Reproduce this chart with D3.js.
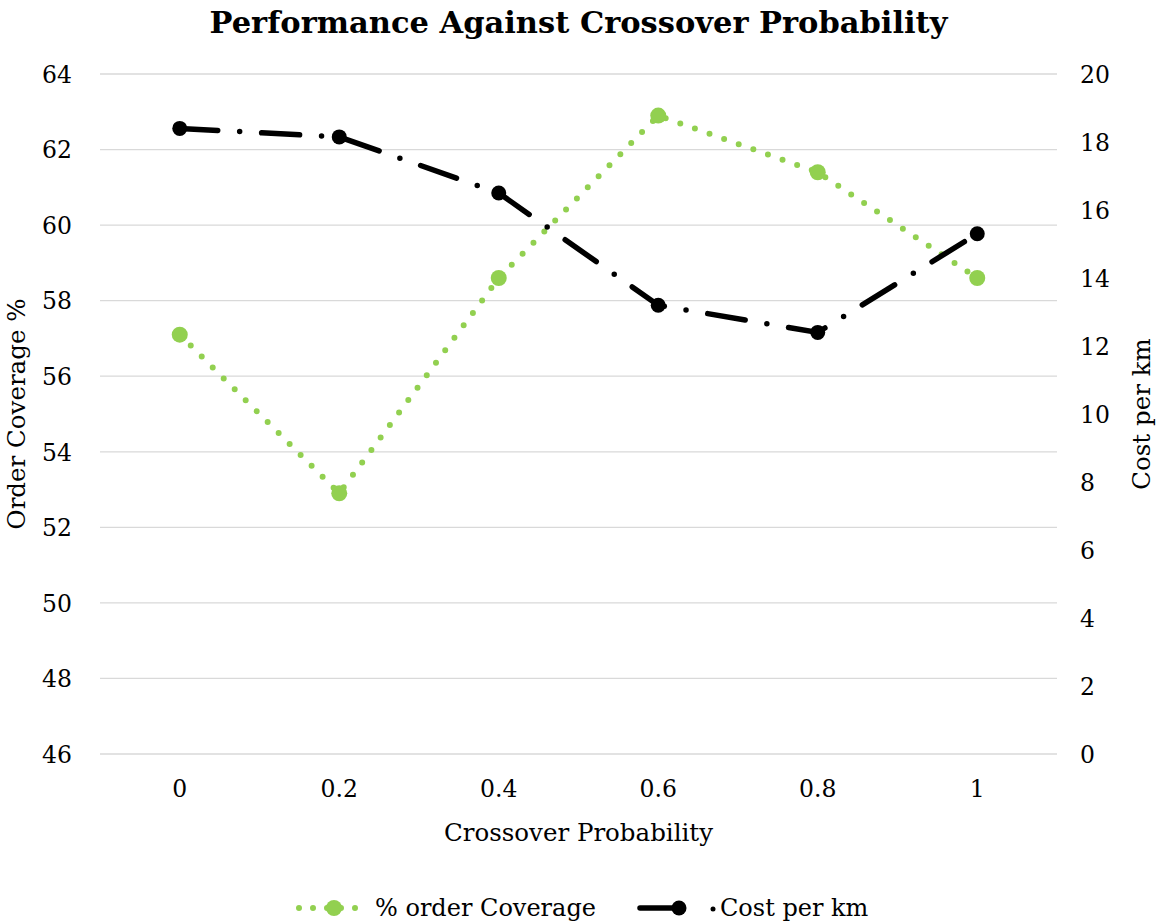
<!DOCTYPE html>
<html>
<head>
<meta charset="utf-8">
<script src="https://cdn.jsdelivr.net/npm/d3@7"></script>
<style>
  body { margin: 0; background: #fff; }
  text { font-family: "DejaVu Serif", serif; fill: #000; }
</style>
</head>
<body>
<script>
// chart data
const categories = ['0', '0.2', '0.4', '0.6', '0.8', '1'];
const coverage = [57.1, 52.9, 58.6, 62.9, 61.4, 58.6];
const costPerKm = [18.4, 18.15, 16.5, 13.2, 12.4, 15.3];
const leftTicks = [46, 48, 50, 52, 54, 56, 58, 60, 62, 64];
const rightTicks = [0, 2, 4, 6, 8, 10, 12, 14, 16, 18, 20];

const W = 1157, H = 923;
const plot = {left: 100, right: 1057, top: 74, bottom: 754};

const svg = d3.select('body').append('svg')
  .attr('width', W)
  .attr('height', H);

const xScale = d3.scaleBand()
  .domain(categories)
  .range([plot.left, plot.right]);

const yLeft = d3.scaleLinear()
  .domain([46, 64])
  .range([plot.bottom, plot.top]);

const yRight = d3.scaleLinear()
  .domain([0, 20])
  .range([plot.bottom, plot.top]);

const xc = d => xScale(d) + xScale.bandwidth() / 2;

// gridlines
svg.append('g')
  .selectAll('line')
  .data(leftTicks)
  .enter().append('line')
    .attr('x1', plot.left)
    .attr('x2', plot.right)
    .attr('y1', d => yLeft(d))
    .attr('y2', d => yLeft(d))
    .attr('stroke', '#d9d9d9')
    .attr('stroke-width', 1.3);

// left axis
const leftAxis = svg.append('g')
  .attr('transform', 'translate(' + (plot.left - 28) + ',0)')
  .call(d3.axisLeft(yLeft).tickValues(leftTicks).tickSize(0).tickPadding(0));
leftAxis.select('.domain').remove();
leftAxis.selectAll('text').style('font-size', '23.5px').attr('dy', '0.35em');

// right axis
const rightAxis = svg.append('g')
  .attr('transform', 'translate(' + (plot.right + 23) + ',0)')
  .call(d3.axisRight(yRight).tickValues(rightTicks).tickSize(0).tickPadding(0));
rightAxis.select('.domain').remove();
rightAxis.selectAll('text').style('font-size', '23.5px').attr('dy', '0.35em');

// x axis
const xAxis = svg.append('g')
  .attr('transform', 'translate(0,' + (plot.bottom + 26) + ')')
  .call(d3.axisBottom(xScale).tickSize(0).tickPadding(0));
xAxis.select('.domain').remove();
xAxis.selectAll('text').style('font-size', '23.5px').attr('dy', '0.71em');

// titles
svg.append('text')
  .attr('x', W / 2)
  .attr('y', 33)
  .attr('text-anchor', 'middle')
  .style('font-size', '30.5px')
  .style('font-weight', 'bold')
  .text('Performance Against Crossover Probability');

svg.append('text')
  .attr('x', (plot.left + plot.right) / 2)
  .attr('y', 841)
  .attr('text-anchor', 'middle')
  .style('font-size', '24.5px')
  .text('Crossover Probability');

svg.append('text')
  .attr('transform', 'translate(25,' + ((plot.top + plot.bottom) / 2) + ') rotate(-90)')
  .attr('text-anchor', 'middle')
  .style('font-size', '24.5px')
  .text('Order Coverage %');

svg.append('text')
  .attr('transform', 'translate(1150,' + ((plot.top + plot.bottom) / 2) + ') rotate(-90)')
  .attr('text-anchor', 'middle')
  .style('font-size', '24.5px')
  .text('Cost per km');

// lines
const green = '#92d050';

const lineLeft = d3.line()
  .x((d, i) => xc(categories[i]))
  .y(d => yLeft(d));

const lineRight = d3.line()
  .x((d, i) => xc(categories[i]))
  .y(d => yRight(d));

svg.append('path')
  .datum(coverage)
  .attr('d', lineLeft)
  .attr('fill', 'none')
  .attr('stroke', green)
  .attr('stroke-width', 6)
  .attr('stroke-linecap', 'round')
  .attr('stroke-dasharray', '0,15.5');

svg.selectAll('.gdot')
  .data(coverage)
  .enter().append('circle')
    .attr('class', 'gdot')
    .attr('cx', (d, i) => xc(categories[i]))
    .attr('cy', d => yLeft(d))
    .attr('r', 8)
    .attr('fill', green);

svg.append('path')
  .datum(costPerKm)
  .attr('d', lineRight)
  .attr('fill', 'none')
  .attr('stroke', '#000')
  .attr('stroke-width', 5.5)
  .attr('stroke-linecap', 'round')
  .attr('stroke-dasharray', '38,22,0,22');

svg.selectAll('.bdot')
  .data(costPerKm)
  .enter().append('circle')
    .attr('class', 'bdot')
    .attr('cx', (d, i) => xc(categories[i]))
    .attr('cy', d => yRight(d))
    .attr('r', 7.5)
    .attr('fill', '#000');

// legend
const ly = 908;
const lg = svg.append('g');
lg.append('line')
  .attr('x1', 299).attr('x2', 366).attr('y1', ly).attr('y2', ly)
  .attr('stroke', green).attr('stroke-width', 6)
  .attr('stroke-linecap', 'round').attr('stroke-dasharray', '0,14');
lg.append('circle').attr('cx', 334).attr('cy', ly).attr('r', 8).attr('fill', green);
lg.append('text').attr('x', 375).attr('y', ly).attr('dy', '0.35em')
  .style('font-size', '24px').text('% order Coverage');

lg.append('line')
  .attr('x1', 640).attr('x2', 677).attr('y1', ly).attr('y2', ly)
  .attr('stroke', '#000').attr('stroke-width', 5.5).attr('stroke-linecap', 'round');
lg.append('circle').attr('cx', 679).attr('cy', ly).attr('r', 7.5).attr('fill', '#000');
lg.append('circle').attr('cx', 713).attr('cy', ly + 1).attr('r', 2.5).attr('fill', '#000');
lg.append('text').attr('x', 720).attr('y', ly).attr('dy', '0.35em')
  .style('font-size', '24px').text('Cost per km');
</script>
</body>
</html>
